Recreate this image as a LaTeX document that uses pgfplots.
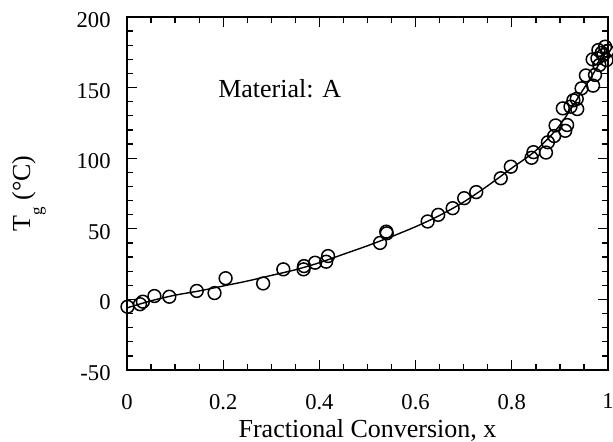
\documentclass[border=0pt]{standalone}
\usepackage{fontspec}
\setmainfont{Liberation Serif}
\usepackage{pgfplots}
\pgfplotsset{compat=1.18}

% measured points (conversion x, Tg in deg C)
\pgfplotstableread{
x      tg
0.001  -5.2
0.027  -3.4
0.033  -1.6
0.057   2.4
0.088   1.9
0.145   6.0
0.182   4.5
0.205  15.0
0.283  11.3
0.325  21.3
0.367  21.3
0.368  23.6
0.391  26.0
0.414  26.7
0.418  30.7
0.526  40.0
0.539  48.0
0.540  46.8
0.625  55.2
0.647  59.9
0.677  64.6
0.701  71.7
0.726  76.0
0.777  85.8
0.798  94.0
0.841 100.3
0.845 104.3
0.871 104.0
0.875 111.3
0.888 115.7
0.891 123.2
0.911 119.4
0.915 123.5
0.906 135.3
0.922 136.5
0.928 141.0
0.935 142.0
0.936 134.8
0.945 149.5
0.954 158.6
0.969 151.4
0.973 159.0
0.968 170.0
0.978 170.7
0.982 166.0
0.987 174.7
0.994 179.0
0.997 169.5
0.990 173.0
0.980 176.6
0.999 176.0
}\tgdata

% fitted curve
\pgfplotstableread{
x      tg
0.00   -6.0
0.05   -1.0
0.10    3.0
0.15    6.0
0.20    9.5
0.25   13.0
0.30   17.0
0.35   21.0
0.40   26.0
0.45   32.0
0.50   38.0
0.55   44.5
0.60   51.5
0.65   59.5
0.70   69.0
0.75   80.5
0.80   93.0
0.85  105.5
0.90  123.5
0.95  149.5
0.975 163.0
1.00  178.0
}\tgfit

\begin{document}
\begin{tikzpicture}
\useasboundingbox (-63.5pt,-35.5pt) rectangle (243pt,185pt);
\begin{axis}[
  at={(0,0)}, anchor=south west,
  scale only axis,
  width=240.5pt, height=176.5pt,
  xmin=0, xmax=1, ymin=-50, ymax=200,
  xtick={0,0.2,...,1.0},
  xticklabels={0,0.2,0.4,0.6,0.8,1},
  ytick={-50,0,50,100,150,200},
  minor x tick num=3,
  minor y tick num=4,
  tick align=inside,
  major tick length=5pt,
  minor tick length=2.8pt,
  axis line style={line width=0.7pt},
  every tick/.style={line width=0.65pt, black},
  /pgf/number format/assume math mode=true,
  ticklabel style={font=\fontsize{11.3}{13}\selectfont},
  xticklabel style={anchor=north, inner sep=0pt, yshift=-11.8pt},
  yticklabel style={anchor=east, inner sep=0pt, xshift=-8pt, yshift=-1.5pt},
  xlabel={Fractional Conversion, x},
  xlabel style={at={(axis description cs:0.5,-0.139)}, anchor=north,
                inner sep=0pt, font=\fontsize{13}{15}\selectfont},
  ylabel={T\raisebox{-6pt}{\fontsize{8.5}{8.5}\selectfont g}\ (°C)},
  ylabel style={at={(axis description cs:-0.168,0.5)}, anchor=south,
                inner sep=0pt, font=\fontsize{13}{15}\selectfont},
  clip=false,
]
\addplot[black, line width=0.7pt, smooth, no marks] table[x=x, y=tg] {\tgfit};
\addplot[only marks, mark=o, mark size=3.2pt,
         mark options={line width=0.75pt, black}] table[x=x, y=tg] {\tgdata};
\node[anchor=base west, font=\fontsize{13}{15}\selectfont, inner sep=0pt]
  at (axis cs:0.189,143.3) {Material: A};
\end{axis}
\end{tikzpicture}
\end{document}
